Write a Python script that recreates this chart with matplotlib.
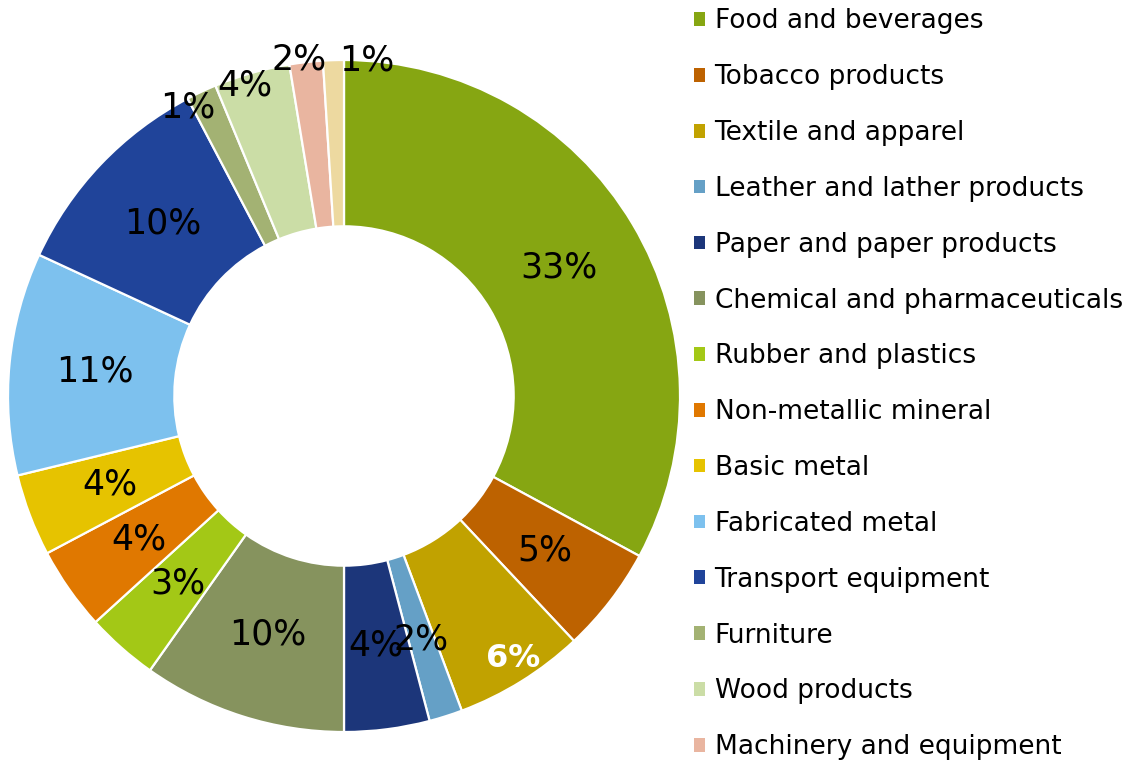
import matplotlib
matplotlib.use('Agg')
import matplotlib.pyplot as plt
import numpy as np
from matplotlib.patches import Patch

# share of manufacturing output by industry (%)
industries = [
    'Food and beverages', 'Tobacco products', 'Textile and apparel',
    'Leather and lather products', 'Paper and paper products',
    'Chemical and pharmaceuticals', 'Rubber and plastics',
    'Non-metallic mineral', 'Basic metal', 'Fabricated metal',
    'Transport equipment', 'Furniture', 'Wood products',
    'Machinery and equipment', 'Others',
]
shares = [32.9, 5.1, 6.3, 1.6, 4.1, 9.8, 3.45, 4.0, 3.95, 10.7, 10.4, 1.45, 3.65, 1.6, 1.0]

colors = [
    '#86A612', '#BD6200', '#C1A200', '#65A0C6', '#1C367A',
    '#86935E', '#A3C816', '#E07800', '#E6C300', '#7DC1EE',
    '#20449A', '#A3B273', '#CBDDA6', '#E9B5A0', '#EDD9A0',
]

# label placement: radius (in pie radii) and small angular nudge (degrees)
label_radius = [0.745, 0.755, 0.93, 0.76, 0.75, 0.745, 0.745, 0.745, 0.745, 0.745,
                0.745, 0.975, 0.97, 1.01, 1.0]
label_nudge = [0, 0, -0.9, 0, 0, 0, 0, 0, 0, 0, 0, -3.3, -1.8, -1.1, 5.7]

plt.rcParams['font.family'] = ['DejaVu Sans']

W, H = 1135, 765
fig = plt.figure(figsize=(W / 100, H / 100), dpi=100)
ax = fig.add_axes([8 / W, (H - 732) / H, 672 / W, 672 / H])

wedges, _ = ax.pie(
    shares, colors=colors, startangle=90, counterclock=False, radius=1.0,
    wedgeprops=dict(width=0.495, edgecolor='white', linewidth=1.6),
)
ax.set_xlim(-1, 1)
ax.set_ylim(-1, 1)
ax.set_aspect('equal')
ax.axis('off')

# percentage labels
total = sum(shares)
cum = 0.0
for i, v in enumerate(shares):
    mid = (cum + v / 2) / total * 360.0 + label_nudge[i]
    cum += v
    theta = np.deg2rad(90 - mid)
    r = label_radius[i]
    x, y = r * np.cos(theta), r * np.sin(theta)
    if i == 2:
        ax.text(x, y, f'{v:.0f}%', ha='center', va='center', fontsize=23,
                color='white', fontweight='bold', clip_on=False)
    else:
        ax.text(x, y, f'{v:.0f}%', ha='center', va='center', fontsize=25,
                color='black', clip_on=False)

handles = [Patch(facecolor=c, edgecolor='none') for c in colors[:14]]
fig.legend(
    handles, industries[:14], loc='upper left',
    bbox_to_anchor=(694 / W, 1 - 8.5 / H), frameon=False, fontsize=19,
    handlelength=0.42, handleheight=0.42, handletextpad=0.36,
    labelspacing=1.13, borderaxespad=0, borderpad=0,
)

fig.savefig('out.png', dpi=100)
